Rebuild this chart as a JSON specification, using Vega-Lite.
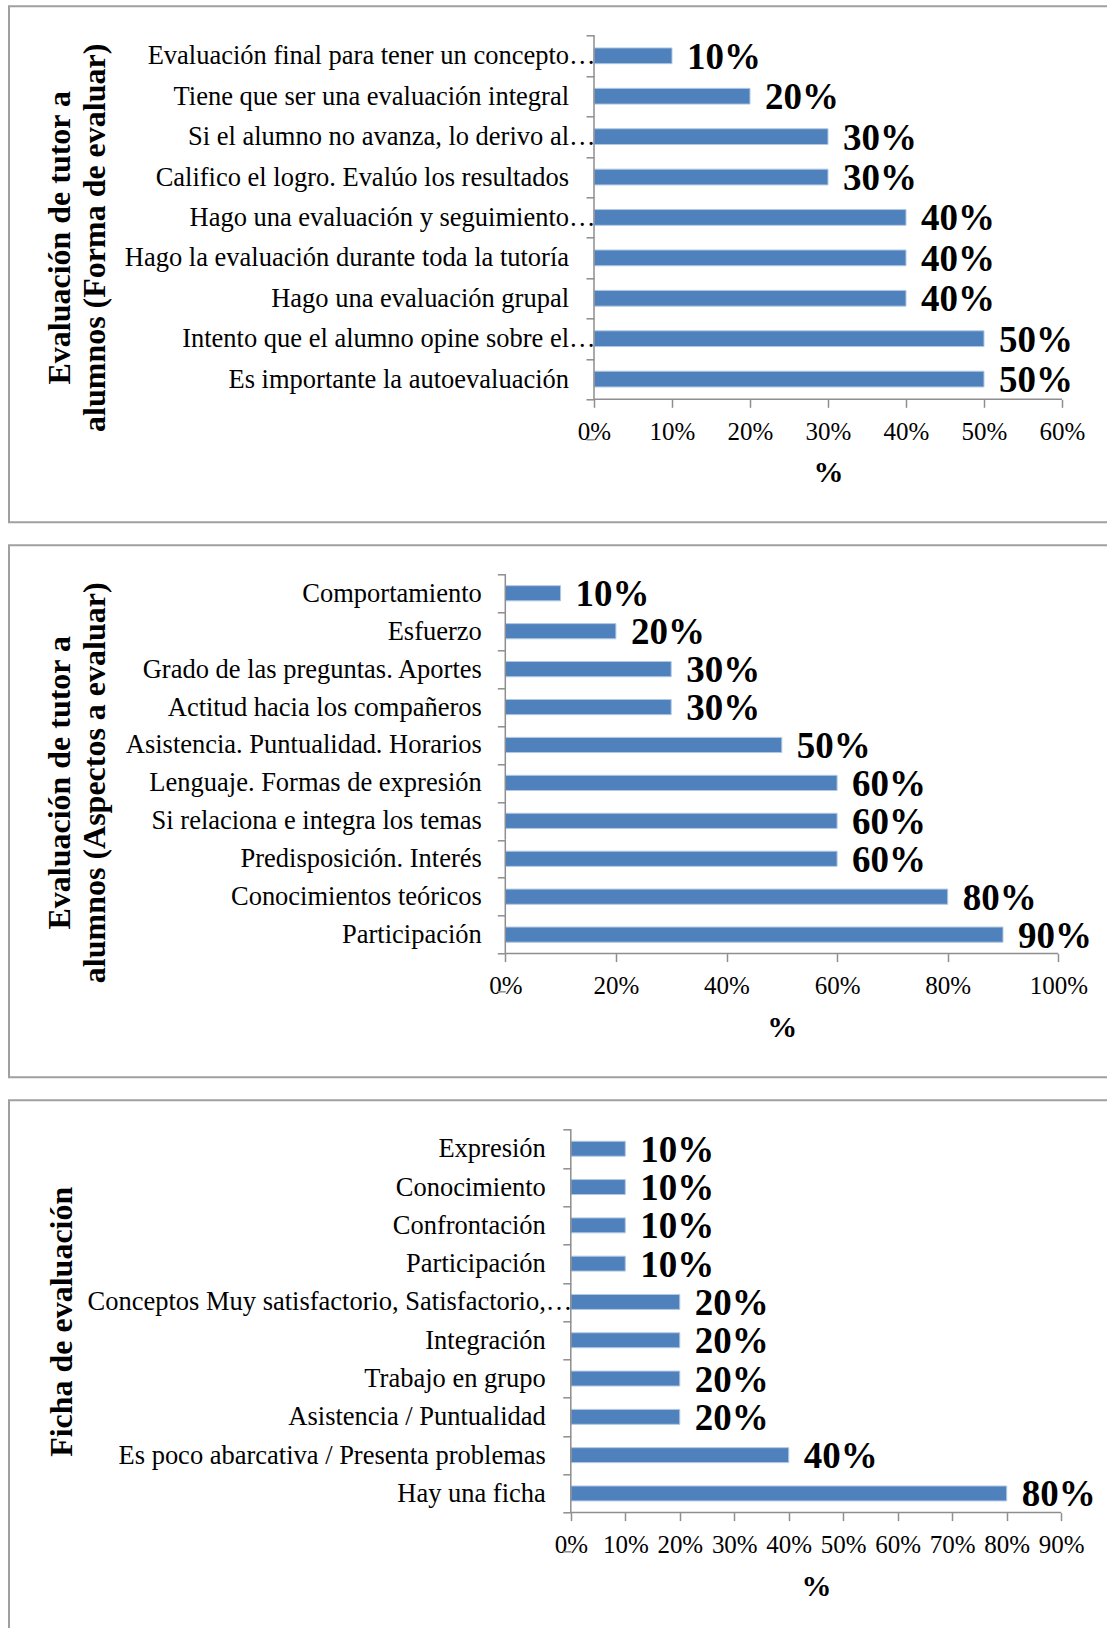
{
  "$schema": "https://vega.github.io/schema/vega-lite/v6.json",
  "padding": {"left": 8, "top": -7.7, "right": 0, "bottom": 0},
  "spacing": 23,
  "bounds": "flush",
  "config": {
    "view": {"stroke": "#a0a0a0", "strokeWidth": 2},
    "font": "Liberation Serif"
  },
  "datasets": {
    "p1": [
      {"cat": "Evaluación final para tener un concepto…", "v": 0.1},
      {"cat": "Tiene que ser una evaluación integral", "v": 0.2},
      {"cat": "Si el alumno no avanza, lo derivo al…", "v": 0.3},
      {"cat": "Califico el logro. Evalúo los resultados", "v": 0.3},
      {"cat": "Hago una evaluación y seguimiento…", "v": 0.4},
      {"cat": "Hago la evaluación durante toda la tutoría", "v": 0.4},
      {"cat": "Hago una evaluación grupal", "v": 0.4},
      {"cat": "Intento que el alumno opine sobre el…", "v": 0.5},
      {"cat": "Es importante la autoevaluación", "v": 0.5}
    ],
    "p2": [
      {"cat": "Comportamiento", "v": 0.1},
      {"cat": "Esfuerzo", "v": 0.2},
      {"cat": "Grado de las preguntas. Aportes", "v": 0.3},
      {"cat": "Actitud hacia los compañeros", "v": 0.3},
      {"cat": "Asistencia. Puntualidad. Horarios", "v": 0.5},
      {"cat": "Lenguaje. Formas de expresión", "v": 0.6},
      {"cat": "Si relaciona e integra los temas", "v": 0.6},
      {"cat": "Predisposición. Interés", "v": 0.6},
      {"cat": "Conocimientos teóricos", "v": 0.8},
      {"cat": "Participación", "v": 0.9}
    ],
    "p3": [
      {"cat": "Expresión", "v": 0.1},
      {"cat": "Conocimiento", "v": 0.1},
      {"cat": "Confrontación", "v": 0.1},
      {"cat": "Participación", "v": 0.1},
      {"cat": "Conceptos Muy satisfactorio, Satisfactorio,…", "v": 0.2},
      {"cat": "Integración", "v": 0.2},
      {"cat": "Trabajo en grupo", "v": 0.2},
      {"cat": "Asistencia / Puntualidad", "v": 0.2},
      {"cat": "Es poco abarcativa / Presenta problemas", "v": 0.4},
      {"cat": "Hay una ficha", "v": 0.8}
    ]
  },
  "vconcat": [
    {
      "width": 1112,
      "height": 516,
      "data": {"name": "p1"},
      "layer": [
        {
          "mark": {"type": "bar", "height": {"band": 0.39}, "color": "#4f81bd", "stroke": "#b3c8e3", "strokeWidth": 1},
          "encoding": {
            "y": {
              "field": "cat", "type": "nominal",
              "scale": {
                "domain": ["Evaluación final para tener un concepto…", "Tiene que ser una evaluación integral", "Si el alumno no avanza, lo derivo al…", "Califico el logro. Evalúo los resultados", "Hago una evaluación y seguimiento…", "Hago la evaluación durante toda la tutoría", "Hago una evaluación grupal", "Intento que el alumno opine sobre el…", "Es importante la autoevaluación", " ", "  ", "   "],
                "paddingInner": 0, "paddingOuter": 0.3844, "align": 0.943
              },
              "axis": {
                "orient": "left", "offset": -585, "domain": false, "grid": false,
                "tickBand": "extent", "tickSize": 8, "tickWidth": 1.5,
                "tickColor": {"condition": {"test": "datum.value == '  ' || datum.value == '   '", "value": "transparent"}, "value": "#8e8e8e"},
                "labelFont": "Liberation Serif", "labelFontSize": 26.5, "labelColor": "#000000", "labelLimit": 700,
                "labelPadding": -9,
                "labelExpr": "indexof(datum.label, '…') >= 0 ? datum.label : datum.label + '\u00a0\u00a0\u00a0\u00a0\u200b'",
                "title": ["Evaluación de tutor a", "alumnos (Forma de evaluar)"],
                "titleFont": "Liberation Serif", "titleFontSize": 32, "titleFontWeight": "bold", "titleColor": "#000000",
                "titleAngle": -90, "titleAlign": "center", "titleBaseline": "middle", "titleLineHeight": 35,
                "titleX": -534.5, "titleY": 231
              }
            },
            "x": {
              "field": "v", "type": "quantitative",
              "scale": {"domain": [-0.75, 0.67564], "nice": false, "zero": false},
              "axis": {
                "orient": "bottom", "offset": -123, "domain": false, "grid": false,
                "values": [0, 0.1, 0.2, 0.3, 0.4, 0.5, 0.6], "format": ".0%",
                "tickSize": 8, "tickColor": "#8e8e8e", "tickWidth": 1.5,
                "labelFont": "Liberation Serif", "labelFontSize": 25, "labelColor": "#000000", "labelPadding": 12,
                "labelFlush": false, "labelOverlap": false,
                "title": "%", "titleFont": "Liberation Serif", "titleFontSize": 30, "titleFontWeight": "bold", "titleColor": "#000000",
                "titleX": 819, "titleY": 82, "titleBaseline": "alphabetic", "titleAlign": "center"
              }
            }
          }
        },
        {
          "mark": {"type": "bar", "height": {"band": 1}, "fillOpacity": 0, "stroke": "#8e8e8e", "strokeWidth": 1.5},
          "encoding": {
            "y": {"field": "cat", "type": "nominal"},
            "x": {"datum": 0},
            "x2": {"datum": 0}
          }
        },
        {
          "transform": [{"filter": "datum.cat == 'Es importante la autoevaluación'"}],
          "mark": {"type": "rule", "color": "#8e8e8e", "strokeWidth": 1.5},
          "encoding": {
            "y": {"field": "cat", "type": "nominal", "bandPosition": 1},
            "x": {"datum": 0},
            "x2": {"datum": 0.6}
          }
        },
        {
          "mark": {"type": "text", "align": "left", "baseline": "middle", "dx": 15, "dy": 2, "font": "Liberation Serif", "fontSize": 37, "fontWeight": "bold", "color": "#000000"},
          "encoding": {
            "y": {"field": "cat", "type": "nominal"},
            "x": {"field": "v", "type": "quantitative"},
            "text": {"field": "v", "format": ".0%"}
          }
        }
      ]
    },
    {
      "width": 1112,
      "height": 532,
      "data": {"name": "p2"},
      "layer": [
        {
          "mark": {"type": "bar", "height": {"band": 0.4}, "color": "#4f81bd", "stroke": "#b3c8e3", "strokeWidth": 1},
          "encoding": {
            "y": {
              "field": "cat", "type": "nominal",
              "scale": {
                "domain": ["Comportamiento", "Esfuerzo", "Grado de las preguntas. Aportes", "Actitud hacia los compañeros", "Asistencia. Puntualidad. Horarios", "Lenguaje. Formas de expresión", "Si relaciona e integra los temas", "Predisposición. Interés", "Conocimientos teóricos", "Participación", " ", "  ", "   "],
                "paddingInner": 0, "paddingOuter": 0.513, "align": 0.7453
              },
              "axis": {
                "orient": "left", "offset": -496.3, "domain": false, "grid": false,
                "tickBand": "extent", "tickSize": 8, "tickWidth": 1.5,
                "tickColor": {"condition": {"test": "datum.value == '  ' || datum.value == '   '", "value": "transparent"}, "value": "#8e8e8e"},
                "labelFont": "Liberation Serif", "labelFontSize": 26.5, "labelColor": "#000000", "labelLimit": 700,
                "labelPadding": 16,
                "title": ["Evaluación de tutor a", "alumnos (Aspectos a evaluar)"],
                "titleFont": "Liberation Serif", "titleFontSize": 32, "titleFontWeight": "bold", "titleColor": "#000000",
                "titleAngle": -90, "titleAlign": "center", "titleBaseline": "middle", "titleLineHeight": 35,
                "titleX": -445.8, "titleY": 237
              }
            },
            "x": {
              "field": "v", "type": "quantitative",
              "scale": {"domain": [-0.89747, 1.11338], "nice": false, "zero": false},
              "axis": {
                "orient": "bottom", "offset": -123.7, "domain": false, "grid": false,
                "values": [0, 0.2, 0.4, 0.6, 0.8, 1], "format": ".0%",
                "tickSize": 8, "tickColor": "#8e8e8e", "tickWidth": 1.5,
                "labelFont": "Liberation Serif", "labelFontSize": 25, "labelColor": "#000000", "labelPadding": 12,
                "labelFlush": false, "labelOverlap": false,
                "title": "%", "titleFont": "Liberation Serif", "titleFontSize": 30, "titleFontWeight": "bold", "titleColor": "#000000",
                "titleX": 772.8, "titleY": 83, "titleBaseline": "alphabetic", "titleAlign": "center"
              }
            }
          }
        },
        {
          "mark": {"type": "bar", "height": {"band": 1}, "fillOpacity": 0, "stroke": "#8e8e8e", "strokeWidth": 1.5},
          "encoding": {
            "y": {"field": "cat", "type": "nominal"},
            "x": {"datum": 0},
            "x2": {"datum": 0}
          }
        },
        {
          "transform": [{"filter": "datum.cat == 'Participación'"}],
          "mark": {"type": "rule", "color": "#8e8e8e", "strokeWidth": 1.5},
          "encoding": {
            "y": {"field": "cat", "type": "nominal", "bandPosition": 1},
            "x": {"datum": 0},
            "x2": {"datum": 1}
          }
        },
        {
          "mark": {"type": "text", "align": "left", "baseline": "middle", "dx": 15, "dy": 2, "font": "Liberation Serif", "fontSize": 37, "fontWeight": "bold", "color": "#000000"},
          "encoding": {
            "y": {"field": "cat", "type": "nominal"},
            "x": {"field": "v", "type": "quantitative"},
            "text": {"field": "v", "format": ".0%"}
          }
        }
      ]
    },
    {
      "width": 1112,
      "height": 540,
      "data": {"name": "p3"},
      "layer": [
        {
          "mark": {"type": "bar", "height": {"band": 0.39}, "color": "#4f81bd", "stroke": "#b3c8e3", "strokeWidth": 1},
          "encoding": {
            "y": {
              "field": "cat", "type": "nominal",
              "scale": {
                "domain": ["Expresión", "Conocimiento", "Confrontación", "Participación", "Conceptos Muy satisfactorio, Satisfactorio,…", "Integración", "Trabajo en grupo", "Asistencia / Puntualidad", "Es poco abarcativa / Presenta problemas", "Hay una ficha", " ", "  ", "   "],
                "paddingInner": 0, "paddingOuter": 0.5496, "align": 0.696
              },
              "axis": {
                "orient": "left", "offset": -561.8, "domain": false, "grid": false,
                "tickBand": "extent", "tickSize": 8, "tickWidth": 1.5,
                "tickColor": {"condition": {"test": "datum.value == '  ' || datum.value == '   '", "value": "transparent"}, "value": "#8e8e8e"},
                "labelFont": "Liberation Serif", "labelFontSize": 26.5, "labelColor": "#000000", "labelLimit": 700,
                "labelPadding": -9,
                "labelExpr": "indexof(datum.label, '…') >= 0 ? datum.label : datum.label + '\u00a0\u00a0\u00a0\u00a0\u200b'",
                "title": "Ficha de evaluación",
                "titleFont": "Liberation Serif", "titleFontSize": 32, "titleFontWeight": "bold", "titleColor": "#000000",
                "titleAngle": -90, "titleAlign": "center", "titleBaseline": "middle",
                "titleX": -509.8, "titleY": 221
              }
            },
            "x": {
              "field": "v", "type": "quantitative",
              "scale": {"domain": [-1.03101, 1.00973], "nice": false, "zero": false},
              "axis": {
                "orient": "bottom", "offset": -127.7, "domain": false, "grid": false,
                "values": [0, 0.1, 0.2, 0.3, 0.4, 0.5, 0.6, 0.7, 0.8, 0.9], "format": ".0%",
                "tickSize": 8, "tickColor": "#8e8e8e", "tickWidth": 1.5,
                "labelFont": "Liberation Serif", "labelFontSize": 25, "labelColor": "#000000", "labelPadding": 12,
                "labelFlush": false, "labelOverlap": false,
                "title": "%", "titleFont": "Liberation Serif", "titleFontSize": 30, "titleFontWeight": "bold", "titleColor": "#000000",
                "titleX": 807, "titleY": 83, "titleBaseline": "alphabetic", "titleAlign": "center"
              }
            }
          }
        },
        {
          "mark": {"type": "bar", "height": {"band": 1}, "fillOpacity": 0, "stroke": "#8e8e8e", "strokeWidth": 1.5},
          "encoding": {
            "y": {"field": "cat", "type": "nominal"},
            "x": {"datum": 0},
            "x2": {"datum": 0}
          }
        },
        {
          "transform": [{"filter": "datum.cat == 'Hay una ficha'"}],
          "mark": {"type": "rule", "color": "#8e8e8e", "strokeWidth": 1.5},
          "encoding": {
            "y": {"field": "cat", "type": "nominal", "bandPosition": 1},
            "x": {"datum": 0},
            "x2": {"datum": 0.9}
          }
        },
        {
          "mark": {"type": "text", "align": "left", "baseline": "middle", "dx": 15, "dy": 2, "font": "Liberation Serif", "fontSize": 37, "fontWeight": "bold", "color": "#000000"},
          "encoding": {
            "y": {"field": "cat", "type": "nominal"},
            "x": {"field": "v", "type": "quantitative"},
            "text": {"field": "v", "format": ".0%"}
          }
        }
      ]
    }
  ]
}
